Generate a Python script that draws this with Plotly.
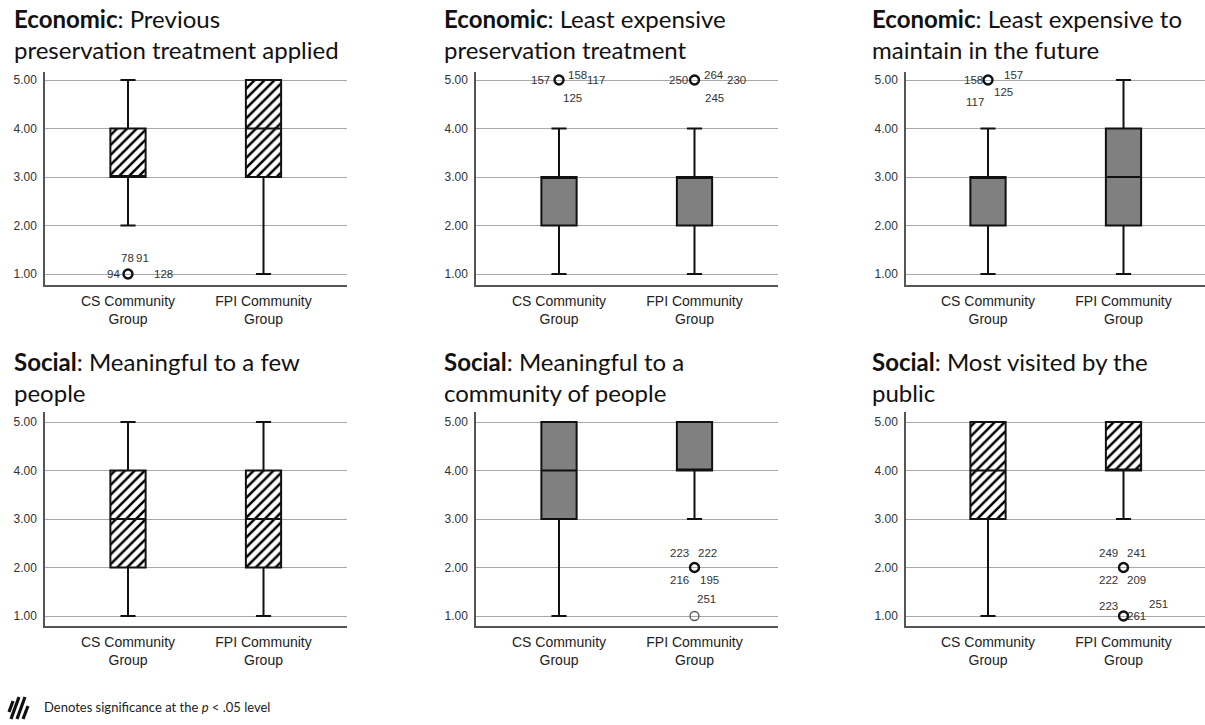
import plotly.graph_objects as go

# ---- data -----------------------------------------------------------------
groups = ["CS Community Group", "FPI Community Group"]
group_ticks = ["CS Community<br>Group", "FPI Community<br>Group"]
y_ticks = [1, 2, 3, 4, 5]

titles = [
    "<b>Economic</b>: Previous<br>preservation treatment applied",
    "<b>Economic</b>: Least expensive<br>preservation treatment",
    "<b>Economic</b>: Least expensive to<br>maintain in the future",
    "<b>Social</b>: Meaningful to a few<br>people",
    "<b>Social</b>: Meaningful to a<br>community of people",
    "<b>Social</b>: Most visited by the<br>public",
]
significant = [True, False, False, True, False, True]
significance_note = "Denotes significance at the <i>p</i> &lt; .05 level"

# five-number summaries per panel: [CS, FPI]
lower_whisker = [[2, 1], [1, 1], [1, 1], [1, 1], [1, 3], [1, 3]]
q1 = [[3, 3], [2, 2], [2, 2], [2, 2], [3, 4], [3, 4]]
median = [[3, 4], [3, 3], [3, 3], [3, 3], [4, 4], [4, 4]]
q3 = [[4, 5], [3, 3], [3, 4], [4, 4], [5, 5], [5, 5]]
upper_whisker = [[5, 5], [4, 4], [4, 5], [5, 5], [5, 5], [5, 5]]

# outliers per panel: (group index, value, case numbers)
outliers = [
    [(0, 1, ["78", "91", "94", "128"])],
    [(0, 5, ["157", "158", "117", "125"]), (1, 5, ["250", "264", "230", "245"])],
    [(0, 5, ["158", "157", "125", "117"])],
    [],
    [(1, 2, ["223", "222", "216", "195"]), (1, 1, ["251"])],
    [(1, 2, ["249", "241", "222", "209"]), (1, 1, ["223", "251", "261"])],
]

# label placement around each outlier circle, in pixels (dx, dy up)
label_offsets = [
    [[(-1, 16), (14, 16), (-15, 0), (35, 0)]],
    [[(-19, 0), (18, 5), (37, 0), (13, -18)], [(-16, 0), (19, 5), (42, 0), (20, -18)]],
    [[(-15, 0), (25, 5), (15, -12), (-13, -22)]],
    [],
    [[(-15, 15), (13, 15), (-15, -12), (15, -12)], [(12, 17)]],
    [[(-15, 15), (13, 15), (-15, -12), (13, -12)], [(-15, 10), (35, 12), (13, 0)]],
]

# ---- layout geometry (pixels) ---------------------------------------------
W, H = 1205, 725
col_px = [(45, 347, 83), (476, 778, 83), (906, 1205, 82)]  # left, right, first-category offset
row_px = [(72, 285, 80, 274), (412, 626, 422, 616)]        # top, bottom, y=5 px, y=1 px
unit_x = 135.5
title_px = [(12, 2), (442, 2), (870, 2), (12, 345), (442, 345), (870, 345)]

AX_FONT = "Arial, Liberation Sans, sans-serif"
TITLE_FONT = "Lato, Open Sans, sans-serif"

fig = go.Figure()
annotations = []
shapes = []

for p in range(6):
    r, c = divmod(p, 3)
    left, right, off = col_px[c]
    top, bottom, y5, y1 = row_px[r]
    unit_y = (y1 - y5) / 4.0
    idx = p + 1
    xa = "x" if idx == 1 else f"x{idx}"
    ya = "y" if idx == 1 else f"y{idx}"

    # axis definitions
    xr0 = -off / unit_x
    xr1 = xr0 + (right - left) / unit_x
    yr0 = 1 - (bottom - y1) / unit_y
    yr1 = 5 + (y5 - top) / unit_y
    fig.layout[f"xaxis{'' if idx == 1 else idx}"] = dict(
        domain=[left / W, right / W], anchor=ya, type="category",
        categoryorder="array", categoryarray=groups,
        range=[xr0, xr1], tickvals=groups, ticktext=group_ticks,
        showline=True, linecolor="#555555", linewidth=1.5,
        showgrid=False, zeroline=False, ticks="", ticklabelstandoff=2,
        tickfont=dict(family=AX_FONT, size=14, color="#222222"),
        fixedrange=True,
    )
    fig.layout[f"yaxis{'' if idx == 1 else idx}"] = dict(
        domain=[1 - bottom / H, 1 - top / H], anchor=xa,
        range=[yr0, yr1], tickvals=y_ticks, tickformat=".2f",
        showline=True, linecolor="#555555", linewidth=1.5,
        showgrid=True, gridcolor="#a8a8a8", gridwidth=1.3,
        zeroline=False, ticks="", ticklabelstandoff=4,
        tickfont=dict(family=AX_FONT, size=12, color="#333333"),
        fixedrange=True,
    )

    # hatched box bodies for significant items
    if significant[p]:
        fig.add_trace(go.Bar(
            x=groups, y=[q3[p][g] - q1[p][g] for g in range(2)], base=q1[p],
            width=0.26, xaxis=xa, yaxis=ya,
            marker=dict(color="white", line=dict(width=0),
                        pattern=dict(shape="/", fgcolor="#000000", bgcolor="white",
                                     fgopacity=1, size=7, solidity=0.36)),
            showlegend=False, hoverinfo="skip",
        ))

    # box and whiskers
    fig.add_trace(go.Box(
        x=groups, q1=q1[p], median=median[p], q3=q3[p],
        lowerfence=lower_whisker[p], upperfence=upper_whisker[p],
        width=0.26, whiskerwidth=0.43, boxpoints=False,
        fillcolor="rgba(0,0,0,0)" if significant[p] else "#808080",
        line=dict(color="#111111", width=2),
        xaxis=xa, yaxis=ya, showlegend=False, hoverinfo="skip",
    ))

    # outliers and their case labels
    for k, (g, val, cases) in enumerate(outliers[p]):
        multi = len(cases) > 1
        fig.add_trace(go.Scatter(
            x=[groups[g]], y=[val], mode="markers", xaxis=xa, yaxis=ya,
            marker=dict(symbol="circle-open", size=9,
                        color="#111111" if multi else "#555555",
                        line=dict(width=2.4 if multi else 1.3)),
            showlegend=False, hoverinfo="skip",
        ))
        for case, (dx, dy) in zip(cases, label_offsets[p][k]):
            annotations.append(dict(
                x=groups[g], y=val, xref=xa, yref=ya, text=case,
                showarrow=False, xshift=dx, yshift=dy,
                font=dict(family=AX_FONT, size=11.5, color="#333333"),
            ))

    # panel heading
    tx, ty = title_px[p]
    annotations.append(dict(
        x=tx / W, y=1 - ty / H, xref="paper", yref="paper",
        xanchor="left", yanchor="top", align="left", showarrow=False,
        text=titles[p], font=dict(family=TITLE_FONT, size=24, color="#111111"),
    ))

# key: hatch swatch and its note
for (x0, y0, x1, y1) in [(9, 712, 13, 701), (11, 719, 19, 697),
                         (17, 719, 25, 697), (23, 719, 28, 706)]:
    shapes.append(dict(type="line", xref="paper", yref="paper",
                       x0=x0 / W, y0=1 - y0 / H, x1=x1 / W, y1=1 - y1 / H,
                       line=dict(color="#111111", width=3.2)))
annotations.append(dict(
    x=42 / W, y=1 - 707 / H, xref="paper", yref="paper",
    xanchor="left", yanchor="middle", showarrow=False,
    text=significance_note, font=dict(family=TITLE_FONT, size=13, color="#222222"),
))

fig.update_layout(
    width=W, height=H, margin=dict(l=0, r=0, t=0, b=0),
    paper_bgcolor="white", plot_bgcolor="white",
    barmode="overlay", boxmode="overlay",
    annotations=annotations, shapes=shapes,
    showlegend=False,
)

fig.write_html("out.html")
